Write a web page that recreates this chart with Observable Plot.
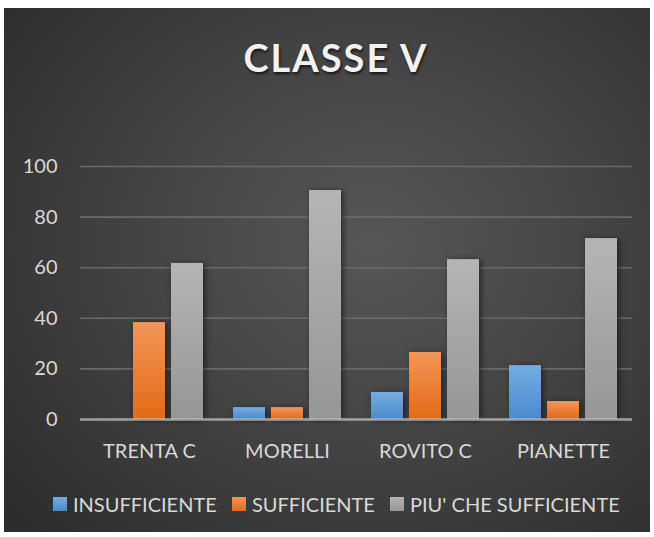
<!DOCTYPE html>
<html>
<head>
<meta charset="utf-8">
<script src="https://cdn.jsdelivr.net/npm/d3@7"></script>
<script src="https://cdn.jsdelivr.net/npm/@observablehq/plot@0.6"></script>
<style>
  html, body { margin: 0; padding: 0; background: #ffffff; }
  body { width: 654px; height: 537px; position: relative; overflow: hidden; font-family: Lato, "Open Sans", sans-serif; }
  #panel { position: absolute; left: 4px; top: 8px; width: 646px; height: 524px;
    background: radial-gradient(ellipse 75% 80% at 57% 45%, #575757 0%, #474747 40%, #2c2c2c 100%); }
  #title { position: absolute; left: 236px; width: 200px; top: 37px; text-align: center;
    font-family: Lato, sans-serif; font-weight: 700; font-size: 38px; line-height: 40px; letter-spacing: 2px;
    color: #f2f2f2; text-shadow: 1px 2px 3px rgba(0,0,0,0.7); white-space: nowrap; }
  #chart { position: absolute; left: 0; top: 0; }
  .bars rect { filter: drop-shadow(2px 1px 3px rgba(0,0,0,0.55)); }
  .leg { position: absolute; top: 492px; height: 24px; display: flex; align-items: center;
    font-family: Lato, sans-serif; font-size: 20px; color: #d9d9d9; white-space: nowrap; }
  .leg .sw { width: 14px; height: 14px; margin-right: 6px; }
</style>
</head>
<body>
<div id="panel"></div>
<div id="title">CLASSE V</div>
<div id="chart"></div>
<div id="legend"></div>
<script>
const groups = ["TRENTA C", "MORELLI", "ROVITO C", "PIANETTE"];
const series = ["INSUFFICIENTE", "SUFFICIENTE", "PIU' CHE SUFFICIENTE"];
const insufficiente = [0, 4.7, 10.7, 21.3];
const sufficiente = [38.3, 4.7, 26.5, 7.1];
const piuCheSufficiente = [61.7, 90.5, 63.2, 71.5];
const yTicks = [0, 20, 40, 60, 80, 100];

const seriesValues = [insufficiente, sufficiente, piuCheSufficiente];
const gradIds = ["g-blue", "g-orange", "g-gray"];
const gradStops = [["#76ade2", "#4a8acb"], ["#f29659", "#e36a16"], ["#b5b5b5", "#969696"]];
const legendX = [53, 232, 390];

const data = [];
groups.forEach((g, i) => series.forEach((s, j) => data.push({group: g, series: s, value: seriesValues[j][i]})));

const svg = Plot.plot({
  width: 654,
  height: 470,
  marginLeft: 95,
  marginRight: 37,
  marginTop: 166,
  marginBottom: 51,
  style: {background: "transparent", color: "#d9d9d9", fontFamily: "Lato, sans-serif", fontSize: "20px"},
  fx: {domain: groups, paddingInner: 30 / 138, paddingOuter: 0, label: null},
  x: {domain: series, paddingInner: 6 / 38, paddingOuter: 0, axis: null, label: null},
  y: {domain: [0, 100], label: null},
  color: {domain: series, range: gradIds.map(id => `url(#${id})`)},
  marks: [
    Plot.ruleY(yTicks.filter(t => t > 0), {stroke: "#6a6a6a", strokeWidth: 1.6, insetLeft: -15, insetRight: -15}),
    Plot.barY(data, {fx: "group", x: "series", y: "value", fill: "series", className: "bars"}),
    Plot.ruleY([0], {stroke: "#c4c4c4", strokeOpacity: 0.75, strokeWidth: 2.5, insetLeft: -15, insetRight: -15}),
    Plot.axisY({ticks: yTicks, tickSize: 0, tickPadding: 38, label: null, fontSize: 20, fill: "#d9d9d9"}),
    Plot.axisFx({anchor: "bottom", tickSize: 0, tickPadding: 24, label: null, fontSize: 20, fill: "#d9d9d9"})
  ]
});

const defs = d3.select(svg).insert("defs", ":first-child");
gradIds.forEach((id, k) => {
  const lg = defs.append("linearGradient").attr("id", id).attr("x1", 0).attr("y1", 0).attr("x2", 0).attr("y2", 1);
  lg.append("stop").attr("offset", "0%").attr("stop-color", gradStops[k][0]);
  lg.append("stop").attr("offset", "100%").attr("stop-color", gradStops[k][1]);
});
document.getElementById("chart").appendChild(svg);

const legend = document.getElementById("legend");
series.forEach((s, k) => {
  const item = document.createElement("div");
  item.className = "leg";
  item.style.left = legendX[k] + "px";
  const sw = document.createElement("span");
  sw.className = "sw";
  sw.style.background = `linear-gradient(${gradStops[k][0]}, ${gradStops[k][1]})`;
  const t = document.createElement("span");
  t.textContent = s;
  item.appendChild(sw);
  item.appendChild(t);
  legend.appendChild(item);
});
</script>
</body>
</html>
